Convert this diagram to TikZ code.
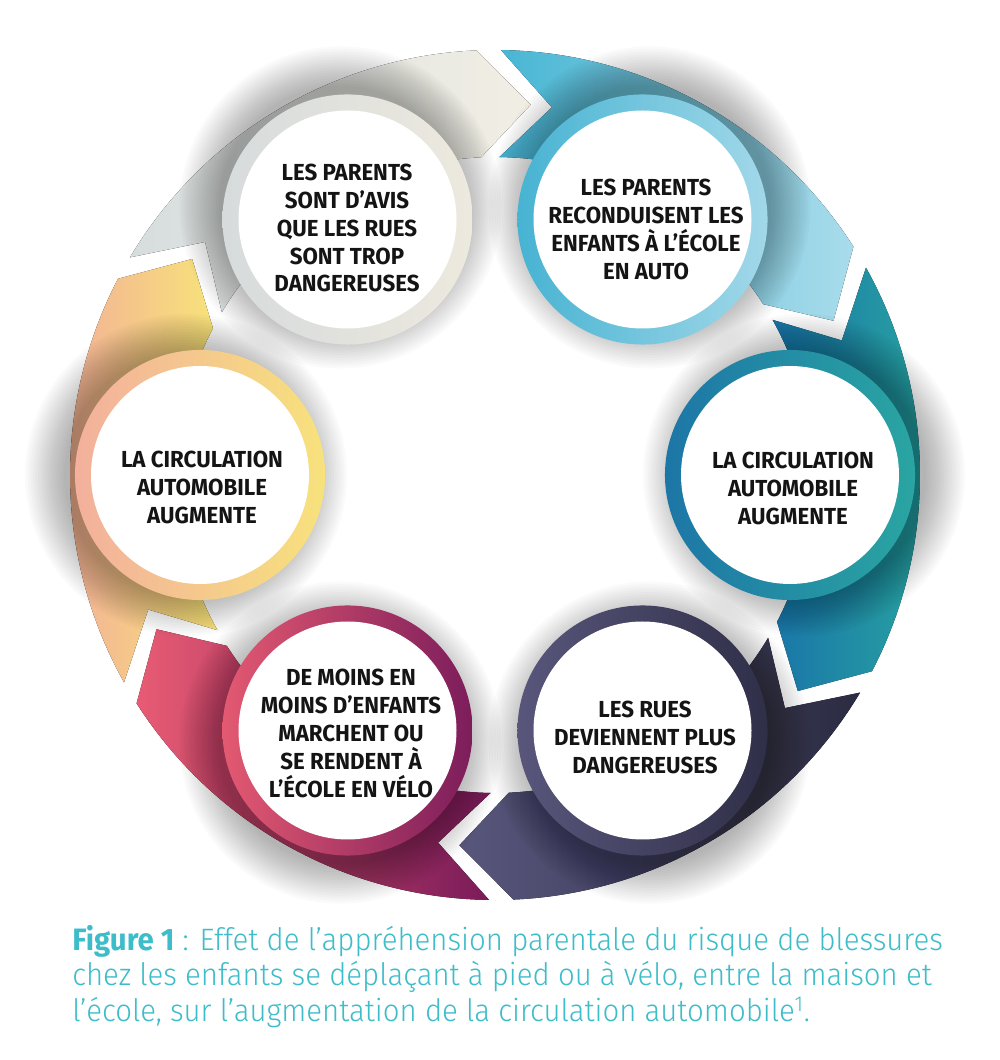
\documentclass[tikz,border=0pt]{standalone}
\usepackage{fontspec}
\usetikzlibrary{calc}
\setmainfont{Fira Sans}
\newfontfamily\boxfont{Fira Sans}[FakeStretch=0.96]
\newfontfamily\capfont{Fira Sans Light}[FakeStretch=0.95]
\newfontfamily\capbold{Fira Sans}[FakeStretch=0.95]
\definecolor{capteal}{HTML}{3DBDC9}
% bands
\definecolor{g1l}{HTML}{D7DDDE}\definecolor{g1r}{HTML}{F1EEE4}
\definecolor{b2l}{HTML}{48B6D4}\definecolor{b2r}{HTML}{A9DCEB}
\definecolor{t3l}{HTML}{1A76A9}\definecolor{t3r}{HTML}{28A5A0}
\definecolor{n4l}{HTML}{58567C}\definecolor{n4r}{HTML}{2B2B42}
\definecolor{m5l}{HTML}{E85B73}\definecolor{m5r}{HTML}{7A1B59}
\definecolor{o6l}{HTML}{F2AC98}\definecolor{o6r}{HTML}{F8E47A}
% rings
\definecolor{rg1l}{HTML}{D6DBDC}\definecolor{rg1r}{HTML}{EDE9DE}
\definecolor{rb2l}{HTML}{47B3D2}\definecolor{rb2r}{HTML}{A2D8E9}
\definecolor{rt3l}{HTML}{1D76A6}\definecolor{rt3r}{HTML}{2AA5A2}
\definecolor{rn4l}{HTML}{58567B}\definecolor{rn4r}{HTML}{302F48}
\definecolor{rm5l}{HTML}{E35971}\definecolor{rm5r}{HTML}{7C1D5B}
\definecolor{ro6l}{HTML}{F3B09D}\definecolor{ro6r}{HTML}{F7E27C}
\newcommand\drawband[3]{%
  \pgfmathsetmacro\tS{#1+30-0.8}%
  \pgfmathsetmacro\tN{#1+30-8.8}%
  \pgfmathsetmacro\hC{#1-30+2.5}%
  \pgfmathsetmacro\hT{#1-30-5.5}%
  \fill[left color=#2, right color=#3]
    (\tS:425) arc[start angle=\tS, end angle=\hC, radius=425]
    -- (\hT:372) -- (\hC:318)
    arc[start angle=\hC, end angle=\tS, radius=318]
    -- (\tN:372) -- cycle;}
\begin{document}
\begin{tikzpicture}[x=0.025cm, y=0.025cm,
  ringnode/.style={circle, minimum size=6.25cm, inner sep=0pt},
  lbl/.style={font=\boxfont\bfseries\fontsize{16.5}{19.9}\selectfont, align=center, text=black!92, inner sep=0pt}
]
\useasboundingbox (0,0) rectangle (1000,1060);
\fill[white] (0,0) rectangle (1000,1060);

\coordinate (O) at (495,585);
\coordinate (p1) at (347.5,840.5);
\coordinate (p2) at (642.5,840.5);
\coordinate (p3) at (790,585);
\coordinate (p4) at (642.5,329.5);
\coordinate (p5) at (347.5,329.5);
\coordinate (p6) at (200,585);

\begin{scope}[shift={(O)}]
  \drawband{120}{g1l}{g1r}
  \drawband{60}{b2l}{b2r}
  \drawband{0}{t3l}{t3r}
  \drawband{-60}{n4l}{n4r}
  \drawband{-120}{m5l}{m5r}
  \drawband{180}{o6l}{o6r}
\end{scope}

% soft shadows cast outward by the circles (stack of faint discs)
\foreach \p/\a in {p1/120,p2/60,p3/0,p4/-60,p5/-120,p6/180} {
  \foreach \i in {0,...,15} {
    \fill[black, opacity=0.018] ($(\p)+(\a:14)$) circle ({122+2.6*\i});
  }
}

\node[ringnode, left color=rg1l, right color=rg1r] (c1) at (p1) {};
\node[ringnode, left color=rb2l, right color=rb2r] (c2) at (p2) {};
\node[ringnode, left color=rt3l, right color=rt3r] (c3) at (p3) {};
\node[ringnode, left color=rn4l, right color=rn4r] (c4) at (p4) {};
\node[ringnode, left color=rm5l, right color=rm5r] (c5) at (p5) {};
\node[ringnode, left color=ro6l, right color=ro6r] (c6) at (p6) {};

\foreach \c in {c1,c2,c3,c4,c5,c6} {\fill[white] (\c) circle (109);}

\node[lbl] (t1) at (347,832) {LES PARENTS\\SONT D’AVIS\\QUE LES RUES\\SONT TROP\\DANGEREUSES};
\node[lbl] (t2) at (646,831) {LES PARENTS\\RECONDUISENT LES\\ENFANTS À L’ÉCOLE\\EN AUTO};
\node[lbl] (t3) at (793,572) {LA CIRCULATION\\AUTOMOBILE\\AUGMENTE};
\node[lbl] (t4) at (645,323) {LES RUES\\DEVIENNENT PLUS\\DANGEREUSES};
\node[lbl] (t5) at (351,327) {DE MOINS EN\\MOINS D’ENFANTS\\MARCHENT OU\\SE RENDENT À\\L’ÉCOLE EN VÉLO};
\node[lbl] (t6) at (202,573) {LA CIRCULATION\\AUTOMOBILE\\AUGMENTE};

\node[anchor=base west, align=left, inner sep=0pt, text=capteal,
  font=\capfont\fontsize{22}{25.6}\selectfont] (cap) at (72,38)
  {{\capbold\bfseries Figure 1} : Effet de l’appréhension parentale du risque de blessures\\
   chez les enfants se déplaçant à pied ou à vélo, entre la maison et\\
   l’école, sur l’augmentation de la circulation automobile\textsuperscript{1}.};
\end{tikzpicture}
\end{document}
